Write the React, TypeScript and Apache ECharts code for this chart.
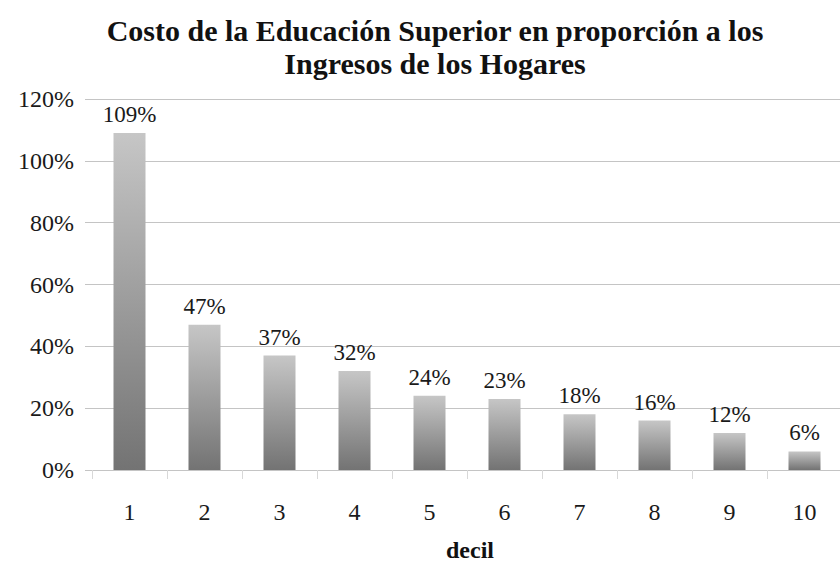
import React, { useEffect, useRef } from "react";
import * as echarts from "echarts";

const titleText = "Costo de la Educación Superior en proporción a los\nIngresos de los Hogares";
const categories = ["1", "2", "3", "4", "5", "6", "7", "8", "9", "10"];
const values = [1.09, 0.47, 0.37, 0.32, 0.24, 0.23, 0.18, 0.16, 0.12, 0.06];
const xAxisName = "decil";

const serif = "Liberation Serif";

export default function App() {
  const ref = useRef<HTMLDivElement>(null);
  useEffect(() => {
    if (!ref.current) return;
    const chart = echarts.init(ref.current, null, { renderer: "svg" });
    chart.setOption({
      animation: false,
      backgroundColor: "#ffffff",
      textStyle: { fontFamily: serif },
      title: {
        text: titleText,
        left: 430,
        textAlign: "center",
        top: 9,
        textStyle: {
          fontFamily: serif,
          fontWeight: "bold",
          fontSize: 30,
          lineHeight: 33,
          color: "#111",
        },
      },
      grid: {
        left: 92,
        top: 99,
        width: 750,
        height: 371,
        containLabel: false,
        outerBoundsMode: "none",
      },
      xAxis: {
        type: "category",
        data: categories,
        name: xAxisName,
        nameLocation: "middle",
        nameGap: 67,
        nameTextStyle: {
          fontFamily: serif,
          fontWeight: "bold",
          fontSize: 24,
          lineHeight: 26,
          color: "#111",
          padding: [0, 0, 0, 6],
        },
        axisLine: { show: false },
        axisTick: { show: true, alignWithLabel: false, length: 9, lineStyle: { color: "#d8d8d8" } },
        axisLabel: { fontFamily: serif, fontSize: 24, color: "#1a1a1a", margin: 30 },
      },
      yAxis: {
        type: "value",
        min: 0,
        max: 1.2,
        interval: 0.2,
        axisLine: { show: false },
        axisTick: { show: true, length: 7, lineStyle: { color: "#c4c4c4" } },
        splitLine: { lineStyle: { color: "#c4c4c4", width: 1 } },
        axisLabel: {
          fontFamily: serif,
          fontSize: 24,
          color: "#1a1a1a",
          margin: 18,
          formatter: (v: number) => Math.round(v * 100) + "%",
        },
      },
      series: [
        {
          type: "bar",
          data: values,
          barWidth: 32,
          itemStyle: {
            color: new echarts.graphic.LinearGradient(0, 0, 0, 1, [
              { offset: 0, color: "#c6c6c6" },
              { offset: 1, color: "#737373" },
            ]),
          },
          label: {
            show: true,
            position: "top",
            distance: 7,
            fontFamily: serif,
            fontSize: 23,
            color: "#1a1a1a",
            formatter: (p: any) => Math.round(p.value * 100) + "%",
          },
        },
      ],
    });
    return () => chart.dispose();
  }, []);
  return (
    <div
      ref={ref}
      style={{ position: "fixed", left: 0, top: 0, width: 840, height: 564 }}
    />
  );
}
